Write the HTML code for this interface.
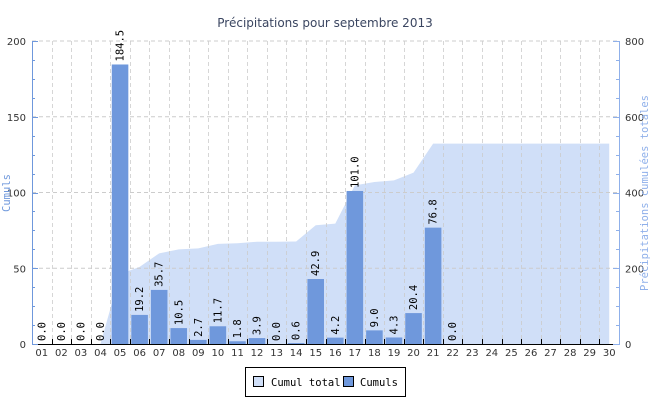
<!DOCTYPE html>
<html><head><meta charset="utf-8"><style>
body{margin:0;background:#fff;width:650px;height:400px;overflow:hidden}
text{font-family:"DejaVu Sans Mono","Liberation Mono",monospace}
</style></head><body>
<svg id="s" width="650" height="400" xmlns="http://www.w3.org/2000/svg">
<text x="325" y="27" text-anchor="middle" style="font-family:'DejaVu Sans',sans-serif;font-size:12px" fill="#3a4560">Précipitations pour septembre 2013</text>
<g id="g"></g>
<rect x="245.5" y="367.5" width="160" height="29" fill="#fff" stroke="#000"/>
<rect x="253.5" y="376.5" width="10" height="10" fill="#d0dff8" stroke="#000"/>
<text x="271" y="386" font-size="10.5">Cumul total</text>
<rect x="343.5" y="376.5" width="10" height="10" fill="#6f98dc" stroke="#000"/>
<text x="360" y="386" font-size="10.5">Cumuls</text>
</svg>
<script>
var v=[0,0,0,0,184.5,19.2,35.7,10.5,2.7,11.7,1.8,3.9,0,0.6,42.9,4.2,101,9,4.3,20.4,76.8,0,null,null,null,null,null,null,null,null];
var L=32,R=619,T=41,B=344,W=(R-L)/30,H=B-T,h='';
function yl(a){return B-a/200*H}function yr(a){return B-a/800*H}
var c=0,pts=[];for(var i=0;i<30;i++){c+=v[i]||0;pts.push([L+(i+.5)*W,yr(c)]);}
var d='M'+pts[0][0]+','+B;pts.forEach(function(p){d+=' L'+p[0]+','+p[1]});d+=' L'+pts[29][0]+','+B+'Z';
h+='<path d="'+d+'" fill="#d0dff8"/>';
for(var k=1;k<=4;k++){var y=yl(k*50);h+='<line x1="'+L+'" x2="'+R+'" y1="'+y+'" y2="'+y+'" stroke="#ccc" stroke-dasharray="4,3"/>';}
for(var i=1;i<30;i++){var x=Math.round(L+i*W)+.5;h+='<line x1="'+x+'" x2="'+x+'" y1="'+T+'" y2="'+B+'" stroke="#ccc" stroke-dasharray="4,3" opacity=".8"/>';}
for(var i=0;i<30;i++){if(v[i]===null)continue;var x0=L+i*W+1.5,y=yl(v[i]);
if(v[i]>0)h+='<rect x="'+x0+'" y="'+y+'" width="'+(W-3)+'" height="'+(B-y)+'" fill="#6f98dc"/>';
var cx=L+(i+.5)*W+3.5;h+='<text transform="translate('+cx+','+(y-3)+') rotate(-90)" font-size="10.5">'+v[i].toFixed(1)+'</text>';}
h+='<line x1="'+L+'" x2="'+R+'" y1="'+(B+.5)+'" y2="'+(B+.5)+'" stroke="#000"/>';
for(var i=1;i<30;i++){var x=Math.round(L+i*W)+.5;h+='<line x1="'+x+'" x2="'+x+'" y1="'+(B-5)+'" y2="'+B+'" stroke="#000"/>';}
h+='<line x1="'+(L+.5)+'" x2="'+(L+.5)+'" y1="'+T+'" y2="'+(B+1)+'" stroke="#6f98dc"/>';
h+='<line x1="'+(R+.5)+'" x2="'+(R+.5)+'" y1="'+T+'" y2="'+(B+1)+'" stroke="#8fb0ea"/>';
for(var k=0;k<=16;k++){var y=Math.round(B-k*H/16)+.5,len=k%4==0?6:3;
h+='<line x1="'+(L+.5)+'" x2="'+(L+len)+'" y1="'+y+'" y2="'+y+'" stroke="#6f98dc"/>';
h+='<line x1="'+(R-len)+'" x2="'+(R+.5)+'" y1="'+y+'" y2="'+y+'" stroke="#8fb0ea"/>';}
for(var k=0;k<=4;k++){var y=yl(k*50)+4;
h+='<text x="26" y="'+y+'" font-size="10" text-anchor="end" fill="#333" style="font-family:\'DejaVu Sans\',sans-serif">'+k*50+'</text>';
h+='<text x="625" y="'+y+'" font-size="10" fill="#333" style="font-family:\'DejaVu Sans\',sans-serif">'+k*200+'</text>';}
for(var i=0;i<30;i++){var s=(i<9?'0':'')+(i+1);h+='<text x="'+(L+(i+.5)*W)+'" y="356" font-size="10" text-anchor="middle" fill="#333" style="font-family:\'DejaVu Sans\',sans-serif">'+s+'</text>';}
h+='<text transform="translate(10,193) rotate(-90)" font-size="10.5" text-anchor="middle" fill="#6f98dc">Cumuls</text>';
h+='<text transform="translate(648,193) rotate(-90)" font-size="10.5" text-anchor="middle" fill="#8fb0ea">Précipitations cumulées totales</text>';
document.getElementById('g').innerHTML=h;
</script>
</body></html>
